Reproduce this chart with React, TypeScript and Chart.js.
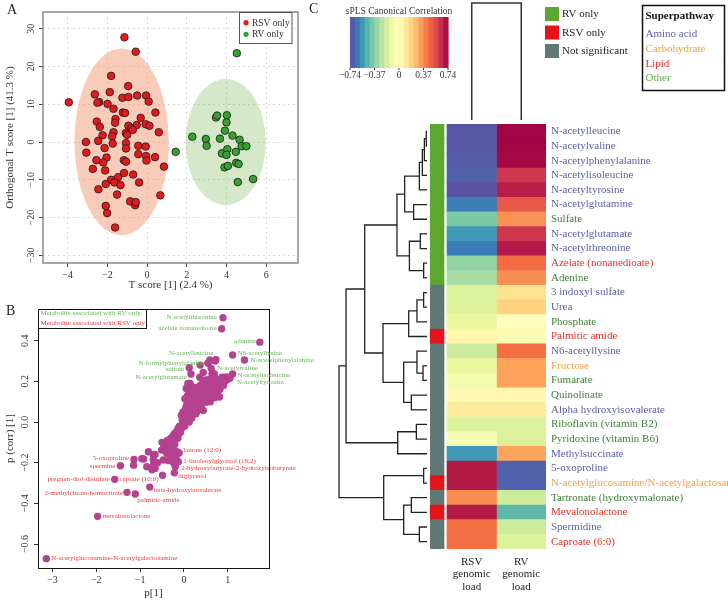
import React, { useEffect, useRef } from "react";
import { Chart, registerables } from "chart.js";
Chart.register(...registerables);

const SERIF = "'Liberation Serif', 'DejaVu Serif', serif";
const MINUS = "\u2212";
const fmt = (v: number, d = 0) => (v < 0 ? MINUS : "") + Math.abs(v).toFixed(d);

// ---------------- Panel A data ----------------
const rsvPoints: [number, number][] = [
  [-1.14, 27.7], [-0.57, 23.9], [-3.94, 10.5], [-1.81, 17.5], [-2.63, 12.6], [-2.41, 10.6], [-2.5, 10.4],
  [-1.88, 13.2], [-1.99, 10.1], [-1.69, 8.8], [-1.24, 11.7], [-0.95, 14.8], [-0.94, 11.9], [-0.5, 12.3],
  [-0.05, 12.3], [0.08, 10.7], [-1.22, 7.8], [-1.11, 7.7], [0.42, 7.8], [-2.53, 5.4], [-2.38, 4.0],
  [-1.59, 6.1], [-1.61, 5.1], [-0.94, 4.3], [-0.79, 3.7], [-0.32, 6.4], [-0.52, 4.5], [-0.07, 4.7],
  [0.12, 4.3], [-2.24, 1.8], [-1.69, 2.6], [-1.76, 1.5], [-1.07, 2.4], [-1.0, 1.9], [0.59, 2.6],
  [-3.08, 0.0], [-2.46, 0.3], [-3.06, -2.8], [-2.14, -1.6], [-1.73, -0.4], [-1.06, -0.3], [-1.06, -1.7],
  [-0.44, -1.0], [-0.07, -1.2], [-2.04, -4.1], [-2.55, -4.8], [-2.21, -5.4], [-2.11, -7.5], [-2.73, -7.1],
  [-1.17, -4.8], [-1.06, -5.2], [-0.44, -3.2], [-0.05, -3.7], [-0.03, -4.9], [0.4, -4.0], [0.85, -6.5],
  [-1.16, -8.2], [-0.7, -8.6], [-1.81, -10.0], [-1.46, -9.3], [-1.64, -10.7], [-2.08, -11.1], [-1.34, -11.4],
  [-0.4, -10.7], [-2.45, -12.5], [-1.51, -13.9], [0.67, -14.1], [-0.85, -15.7], [-0.6, -16.7], [-0.57, -15.9],
  [-2.08, -16.9], [-2.01, -18.8], [-1.61, -22.6], [-0.72, 3.2],
];
const rvPoints: [number, number][] = [
  [4.52, 23.5], [1.44, -2.6], [2.28, 1.4], [2.96, 0.8], [3.0, -1.0], [3.47, 6.5], [3.53, 7.0], [4.02, 7.1],
  [4.0, 5.2], [3.92, 3.0], [3.67, 0.9], [4.3, 1.7], [4.66, 0.6], [4.76, -1.1], [5.0, -1.1], [3.77, -3.0],
  [4.04, -1.9], [4.0, -3.4], [4.47, -2.6], [3.9, -6.7], [4.07, -6.3], [4.49, -5.5], [4.61, -5.8],
  [4.57, -10.6], [5.34, -9.8],
];
const aGroupNames = ["RSV only", "RV only"];
const aXTicks = [-4, -2, 0, 2, 4, 6];
const aYTicks = [-30, -20, -10, 0, 10, 20, 30];
// confidence ellipses: centre and semi-axes in data units
const ellCx = [-1.28, 3.96];
const ellCy = [0.04, 0.0];
const ellRx = [2.37, 2.02];
const ellRy = [24.7, 16.7];

// ---------------- Panel B data ----------------
const bPoints: [number, number][] = [
  [0.59, 0.305], [0.55, 0.29], [0.73, 0.306], [0.37, 0.28], [0.62, 0.264], [0.44, 0.244], [0.69, 0.238],
  [0.5, 0.207], [0.36, 0.22], [0.98, 0.215], [0.93, 0.21], [0.86, 0.2], [0.8, 0.19], [0.1, 0.182],
  [0.14, 0.19], [0.05, 0.165], [0.17, 0.145], [0.29, 0.17], [0.36, 0.155], [0.44, 0.163], [0.51, 0.148],
  [0.58, 0.17], [0.66, 0.148], [0.81, 0.123], [0.62, 0.123], [0.44, 0.115], [0.29, 0.107], [0.21, 0.09],
  [0.06, 0.08], [0.02, 0.115], [0.36, 0.08], [0.51, 0.098], [-0.02, 0.05], [0.17, 0.057], [0.29, 0.05],
  [-0.06, 0.033], [0.44, 0.057], [0.06, 0.04],
  [0.0, 0.02], [0.03, 0.05], [0.05, 0.01], [0.07, 0.06], [0.08, 0.03], [0.1, 0.08], [0.12, 0.05],
  [0.13, 0.1], [0.15, 0.07], [0.16, 0.12], [0.18, 0.09], [0.2, 0.11], [0.21, 0.06], [0.23, 0.13],
  [0.24, 0.09], [0.26, 0.12], [0.27, 0.15], [0.3, 0.14], [0.32, 0.17], [0.33, 0.12], [0.35, 0.15],
  [0.38, 0.13], [0.39, 0.17], [0.41, 0.14], [0.42, 0.19], [0.45, 0.16], [0.47, 0.18], [0.48, 0.14],
  [0.5, 0.2], [0.53, 0.13], [0.55, 0.18], [0.56, 0.15], [0.58, 0.21], [0.6, 0.17], [0.61, 0.14],
  [0.63, 0.19], [0.65, 0.16], [0.66, 0.21], [0.68, 0.18], [0.7, 0.15], [0.72, 0.2], [0.74, 0.17],
  [0.76, 0.19], [0.78, 0.21], [0.83, 0.2], [0.88, 0.19], [0.91, 0.21], [0.94, 0.2], [0.97, 0.22],
  [1.0, 0.21], [1.03, 0.22], [0.4, 0.07], [0.52, 0.1], [0.6, 0.1], [0.7, 0.12], [0.27, 0.04],
  [0.33, 0.06], [0.18, 0.02], [0.12, 0.0], [-0.03, -0.01], [0.02, -0.02],
  [0.08, 0.13], [0.09, 0.16], [0.1, 0.18], [0.11, 0.14], [0.12, 0.19], [0.13, 0.16], [0.09, 0.19], [0.14, 0.13],
  [0.04, 0.07], [0.09, 0.05], [0.14, 0.04], [0.19, 0.07], [0.22, 0.12], [0.25, 0.15], [0.28, 0.09],
  [0.31, 0.11], [0.34, 0.09], [0.37, 0.18], [0.4, 0.16], [0.43, 0.1], [0.46, 0.13], [0.49, 0.17],
  [0.52, 0.19], [0.54, 0.11], [0.57, 0.13], [0.59, 0.19], [0.62, 0.17], [0.64, 0.13], [0.67, 0.19],
  [0.69, 0.22], [0.71, 0.17], [0.75, 0.21], [0.77, 0.15], [0.79, 0.17], [0.82, 0.16], [0.85, 0.19],
  [0.87, 0.22], [0.9, 0.18], [0.95, 0.22], [0.73, 0.13], [0.64, 0.21], [0.46, 0.2], [0.41, 0.12],
  [0.31, 0.08], [0.24, 0.17], [0.2, 0.15], [0.16, 0.04], [0.07, 0.1], [-0.01, 0.0], [-0.04, 0.01],
  [-0.05, -0.03], [-0.08, -0.05], [-0.1, -0.02], [-0.12, -0.06], [-0.15, -0.04], [-0.17, -0.08],
  [-0.2, -0.06], [-0.22, -0.09], [-0.25, -0.07], [-0.28, -0.1], [-0.3, -0.08], [-0.32, -0.12],
  [-0.35, -0.1], [-0.38, -0.09], [-0.4, -0.12], [-0.45, -0.11], [-0.5, -0.1], [-0.47, -0.13],
  [-0.35, -0.13], [-0.28, -0.14], [-0.39, -0.155], [-0.16, -0.146], [-0.28, -0.18], [-0.24, -0.2],
  [-0.35, -0.19], [-0.47, -0.187], [-0.51, -0.138], [-0.66, -0.16], [-0.7, -0.187], [-0.81, -0.146],
  [-0.92, -0.182], [-1.15, -0.212], [-0.7, -0.212], [-0.66, -0.228], [-0.73, -0.235], [-0.85, -0.22],
  [-0.96, -0.18], [-0.7, -0.162], [-0.6, -0.2],
  [-0.07, -0.02], [-0.09, -0.04], [-0.13, -0.03], [-0.14, -0.08], [-0.18, -0.05], [-0.21, -0.11],
  [-0.23, -0.06], [-0.26, -0.12], [-0.31, -0.1], [-0.33, -0.14], [-0.37, -0.11], [-0.42, -0.1],
  [-0.43, -0.14], [-0.31, -0.16], [-0.22, -0.16], [-0.18, -0.17],
];
const bLabelNames = [
  "N-acetylthreonine", "azelate nonanedioate", "adenine", "N6-acetyllysine", "N-acetylphenylalanine",
  "N-acetylleucine", "N-formylphenylalanine", "sulfate", "N-acetylglutamate", "N-acetylvaline",
  "N-acetylisoleucine", "N-acetyltyrosine",
  "laurate (12:0)", "1-linoleoylglycerol (18:2)", "2-hydroxybutyrate-2-hydroxyisobutyrate", "diglycerol",
  "5-oxoproline", "spermine", "pregnen-diol-disulfate", "caprate (10:0)", "beta-hydroxyisovalerate",
  "2-methylcitrate-homocitrate", "palmitic-amide", "mevalonolactone", "N-acetylglucosamine-N-acetylgalactosamine",
];
const bLabelX = [0.89, 0.86, 1.73, 1.11, 1.38, 0.71, 0.55, 0.12, 0.16, 0.64, 1.11, 1.05,
  -0.11, -0.13, -0.2, -0.22, -1.14, -1.45, -1.58, -0.49, -0.78, -1.3, -1.11, -1.97, -3.14];
const bLabelY = [0.513, 0.459, 0.393, 0.33, 0.305, 0.3, 0.29, 0.267, 0.236, 0.236, 0.236, 0.215,
  -0.152, -0.195, -0.22, -0.25, -0.184, -0.215, -0.282, -0.262, -0.32, -0.346, -0.354, -0.464, -0.672];
const bLabelGroup = ["RV", "RV", "RV", "RV", "RV", "RV", "RV", "RV", "RV", "RV", "RV", "RV",
  "RSV", "RSV", "RSV", "RSV", "RSV", "RSV", "RSV", "RSV", "RSV", "RSV", "RSV", "RSV", "RSV"];
const bXTicks = [-3, -2, -1, 0, 1];
const bYTicks = [-0.6, -0.4, -0.2, 0.0, 0.2, 0.4];
const bLegendTexts = ["Metabolite associated with RV only", "Metabolite associated with RSV only"];
// label placement (pixel offsets from the point, alignment) - layout only
const bLabelLayout: [number, number, CanvasTextAlign][] = [
  [-6, -1, "right"], [-5, -1, "right"], [-4, -1, "right"], [5, -2, "left"], [6, 0, "left"],
  [-24, -8, "center"], [-4, 0, "right"], [-5, 1, "right"], [-4, 3, "right"], [5, -6, "left"],
  [5, 1, "left"], [7, 4, "left"],
  [4, -3, "left"], [5, -1, "left"], [6, 1, "left"], [4, 3, "left"], [-5, -1, "right"], [-5, 0, "right"],
  [-5, 0, "right"], [-4, 4, "right"], [4, 3, "left"], [-4, 1, "right"], [2, 6, "left"], [5, 0, "left"],
  [5, 0, "left"],
];

// ---------------- Panel C data ----------------
const metabolites = [
  "N-acetylleucine", "N-acetylvaline", "N-acetylphenylalanine", "N-acetylisoleucine", "N-acetyltyrosine",
  "N-acetylglutamine", "Sulfate", "N-acetylglutamate", "N-acetylthreonine", "Azelate (nonanedioate)",
  "Adenine", "3 indoxyl sulfate", "Urea", "Phosphate", "Palmitic amide", "N6-acetyllysine", "Fructose",
  "Fumarate", "Quinolinate", "Alpha hydroxyisovalerate", "Riboflavin (vitamin B2)", "Pyridoxine (vitamin B6)",
  "Methylsuccinate", "5-oxoproline", "N-acetylglucosamine/N-acetylgalactosamine", "Tartronate (hydroxymalonate)",
  "Mevalonolactone", "Spermidine", "Caproate (6:0)",
];
const superpathway = [
  "Amino acid", "Amino acid", "Amino acid", "Amino acid", "Amino acid", "Amino acid", "Other", "Amino acid",
  "Amino acid", "Lipid", "Other", "Amino acid", "Amino acid", "Other", "Lipid", "Amino acid", "Carbohydrate",
  "Other", "Other", "Amino acid", "Other", "Other", "Amino acid", "Amino acid", "Carbohydrate", "Other",
  "Lipid", "Amino acid", "Lipid",
];
const significance = [
  "RV only", "RV only", "RV only", "RV only", "RV only", "RV only", "RV only", "RV only", "RV only", "RV only",
  "RV only", "Not significant", "Not significant", "Not significant", "RSV only", "Not significant",
  "Not significant", "Not significant", "Not significant", "Not significant", "Not significant",
  "Not significant", "Not significant", "Not significant", "RSV only", "Not significant", "RSV only",
  "Not significant", "Not significant",
];
const rsvCorr = [-0.72, -0.72, -0.71, -0.69, -0.73, -0.62, -0.4, -0.55, -0.62, -0.35, -0.3, -0.17, -0.17,
  -0.12, 0.05, -0.21, -0.13, -0.07, 0.04, 0.1, -0.17, -0.06, -0.55, 0.68, 0.68, 0.37, 0.68, 0.44, 0.44];
const rvCorr = [0.73, 0.73, 0.72, 0.61, 0.67, 0.51, 0.36, 0.61, 0.68, 0.45, 0.37, 0.13, 0.19, 0.01, -0.05,
  0.44, 0.32, 0.32, 0.04, 0.1, -0.17, -0.17, 0.32, -0.69, -0.69, -0.21, -0.47, -0.21, -0.17];
const columnLabels = [["RSV", "genomic", "load"], ["RV", "genomic", "load"]];
const sigLegend = ["RV only", "RSV only", "Not significant"];
const superLegend = ["Amino acid", "Carbohydrate", "Lipid", "Other"];
const cbTicks = [-0.74, -0.37, 0, 0.37, 0.74];
// hierarchical clustering of rows (hclust-style merges: negative = leaf, positive = earlier merge; height)
const rowMerges: [number, number, number][] = [
  [-1, -2, 0.008], [1, -3, 0.03], [2, -4, 0.053], [3, -5, 0.087], [-6, -7, 0.152], [4, 5, 0.254],
  [-8, -9, 0.076], [-10, -11, 0.038], [7, 8, 0.2], [6, 9, 0.341], [-12, -13, 0.038], [11, -14, 0.114],
  [12, -15, 0.208], [-17, -18, 0.045], [-16, 14, 0.114], [-19, -20, 0.178], [15, 16, 0.265], [13, 17, 0.5],
  [10, 18, 0.708], [-21, -22, 0.121], [20, -23, 0.333], [19, 21, 0.92], [-24, -25, 0.038], [-26, -27, 0.178],
  [-28, -29, 0.087], [24, 25, 0.265], [23, 26, 0.492], [22, 27, 1.0],
];

// ---------------- styles ----------------
const spectral = ["#5e4fa2", "#3288bd", "#66c2a5", "#abdda4", "#e6f598", "#ffffbf", "#fee08b", "#fdae61",
  "#f46d43", "#d53e4f", "#9e0142"];
const sigColors: Record<string, string> = { "RV only": "#5ea72f", "RSV only": "#e3151a", "Not significant": "#5f7775" };
const superLabelColors: Record<string, string> = { "Amino acid": "#5a5ea8", Carbohydrate: "#f2a043", Lipid: "#e8302a", Other: "#3f7d3b" };
const superLegendColors: Record<string, string> = { "Amino acid": "#5b5fb0", Carbohydrate: "#f5a040", Lipid: "#ec2a2a", Other: "#63ad4a" };
const RSV_RED = "#e31a1c";
const RV_GREEN = "#36a031";
const B_MAGENTA = "#b5428f";
const B_GREEN = "#63b553";
const B_RED = "#ee3b3b";

const hexRgb = (h: string) => [1, 3, 5].map((i) => parseInt(h.slice(i, i + 2), 16));
function corrColor(v: number) {
  const t = Math.max(0, Math.min(1, (v - cbTicks[0]) / (cbTicks[cbTicks.length - 1] - cbTicks[0]))) * (spectral.length - 1);
  const i = Math.min(spectral.length - 2, Math.floor(t));
  const f = t - i;
  const a = hexRgb(spectral[i]);
  const b = hexRgb(spectral[i + 1]);
  const c = a.map((x, k) => Math.round(x + (b[k] - x) * f));
  return `rgb(${c[0]},${c[1]},${c[2]})`;
}

Chart.defaults.font.family = SERIF;

// ---------------- chart configs ----------------
function makeA(): any {
  const plugin = {
    id: "panelA",
    beforeDatasetsDraw(chart: any) {
      const { ctx, scales } = chart;
      const fills = ["rgba(242,140,100,0.45)", "rgba(120,180,80,0.3)"];
      ctx.save();
      for (let i = 0; i < ellCx.length; i++) {
        const cx = scales.x.getPixelForValue(ellCx[i]);
        const cy = scales.y.getPixelForValue(ellCy[i]);
        const rx = Math.abs(scales.x.getPixelForValue(ellCx[i] + ellRx[i]) - cx);
        const ry = Math.abs(scales.y.getPixelForValue(ellCy[i] + ellRy[i]) - cy);
        ctx.beginPath();
        ctx.ellipse(cx, cy, rx, ry, 0, 0, Math.PI * 2);
        ctx.fillStyle = fills[i];
        ctx.fill();
      }
      ctx.restore();
    },
    afterDraw(chart: any) {
      const { ctx, chartArea: ca, scales } = chart;
      ctx.save();
      ctx.strokeStyle = "#8a8a8a";
      ctx.lineWidth = 1.5;
      ctx.strokeRect(ca.left, ca.top, ca.right - ca.left, ca.bottom - ca.top);
      ctx.fillStyle = "#333";
      ctx.font = `10px ${SERIF}`;
      ctx.textAlign = "center";
      ctx.textBaseline = "middle";
      for (const v of aYTicks) {
        const y = scales.y.getPixelForValue(v);
        ctx.save();
        ctx.translate(31, y);
        ctx.rotate(-Math.PI / 2);
        ctx.fillText(fmt(v), 0, 0);
        ctx.restore();
      }
      // legend
      ctx.fillStyle = "#fff";
      ctx.fillRect(239, 12, 53, 31);
      ctx.strokeStyle = "#555";
      ctx.lineWidth = 1;
      ctx.strokeRect(239.5, 12.5, 52.5, 31);
      const cols = [RSV_RED, RV_GREEN];
      aGroupNames.forEach((name, i) => {
        const y = 22.7 + i * 11.6;
        ctx.beginPath();
        ctx.arc(246, y, 2.6, 0, Math.PI * 2);
        ctx.fillStyle = cols[i];
        ctx.fill();
        ctx.fillStyle = "#333";
        ctx.font = `9.5px ${SERIF}`;
        ctx.textAlign = "left";
        ctx.fillText(name, 252, y + 0.5);
      });
      ctx.font = `14px ${SERIF}`;
      ctx.fillStyle = "#222";
      ctx.textAlign = "left";
      ctx.fillText("A", 7, 10);
      ctx.restore();
    },
  };
  return {
    type: "scatter",
    data: {
      datasets: [
        { label: aGroupNames[0], data: rsvPoints.map(([x, y]) => ({ x, y })), backgroundColor: RSV_RED },
        { label: aGroupNames[1], data: rvPoints.map(([x, y]) => ({ x, y })), backgroundColor: RV_GREEN },
      ],
    },
    options: {
      animation: false,
      responsive: false,
      devicePixelRatio: 1,
      layout: { padding: { top: 12, right: 7, left: 0, bottom: 0 } },
      elements: { point: { radius: 3.8, borderWidth: 0.8, borderColor: "#1a1a1a" } },
      plugins: { legend: { display: false }, tooltip: { enabled: false } },
      scales: {
        x: {
          type: "linear", min: -5.24, max: 7.6,
          afterBuildTicks: (s: any) => { s.ticks = aXTicks.map((v) => ({ value: v })); },
          afterFit: (s: any) => { s.height = 32; },
          grid: { color: "#dcdcdc", drawTicks: true, tickLength: 4, tickColor: "#444", tickBorderDash: [] },
          border: { display: false, dash: [2, 3] },
          ticks: { font: { size: 10 }, color: "#333", padding: 2, maxRotation: 0, callback: (v: number) => fmt(v) },
          title: { display: true, text: "T score [1] (2.4 %)", font: { size: 11 }, color: "#333", padding: { top: 0, bottom: 3 } },
        },
        y: {
          type: "linear", min: -32, max: 34.4,
          afterBuildTicks: (s: any) => { s.ticks = aYTicks.map((v) => ({ value: v })); },
          afterFit: (s: any) => { s.width = 43; },
          grid: { color: "#dcdcdc", drawTicks: true, tickLength: 4, tickColor: "#444", tickBorderDash: [] },
          border: { display: false, dash: [2, 3] },
          ticks: { display: false },
          title: { display: true, text: "Orthogonal T score [1] (41.3 %)", font: { size: 11 }, color: "#333", padding: { top: 4, bottom: 0 } },
        },
      },
    },
    plugins: [plugin],
  };
}

function makeB(): any {
  const plugin = {
    id: "panelB",
    afterDraw(chart: any) {
      const { ctx, chartArea: ca, scales } = chart;
      ctx.save();
      ctx.strokeStyle = "#111";
      ctx.lineWidth = 1;
      ctx.strokeRect(ca.left + 0.5, ca.top + 0.5, ca.right - ca.left, ca.bottom - ca.top);
      ctx.fillStyle = "#333";
      ctx.font = `10px ${SERIF}`;
      ctx.textAlign = "center";
      ctx.textBaseline = "middle";
      for (const v of bYTicks) {
        const y = scales.y.getPixelForValue(v);
        ctx.save();
        ctx.translate(25, y);
        ctx.rotate(-Math.PI / 2);
        ctx.fillText(fmt(v, 1), 0, 0);
        ctx.restore();
      }
      // legend box
      ctx.strokeRect(38.5, 14.5, 108, 19);
      ctx.font = `7px ${SERIF}`;
      ctx.textAlign = "left";
      ctx.fillStyle = B_GREEN;
      ctx.fillText(bLegendTexts[0], 40.5, 18.5);
      ctx.fillStyle = B_RED;
      ctx.fillText(bLegendTexts[1], 40.5, 28);
      // point labels
      bLabelNames.forEach((name, i) => {
        const px = scales.x.getPixelForValue(bLabelX[i]);
        const py = scales.y.getPixelForValue(bLabelY[i]);
        const [dx, dy, align] = bLabelLayout[i];
        ctx.fillStyle = bLabelGroup[i] === "RV" ? B_GREEN : B_RED;
        ctx.textAlign = align;
        ctx.fillText(name, px + dx, py + dy);
      });
      ctx.font = `14px ${SERIF}`;
      ctx.fillStyle = "#222";
      ctx.textAlign = "left";
      ctx.fillText("B", 6, 16);
      ctx.restore();
    },
  };
  return {
    type: "scatter",
    data: {
      datasets: [
        { label: "metabolites", data: bPoints.map(([x, y]) => ({ x, y })), backgroundColor: B_MAGENTA },
        { label: "labelled", data: bLabelX.map((x, i) => ({ x, y: bLabelY[i] })), backgroundColor: B_MAGENTA },
      ],
    },
    options: {
      animation: false,
      responsive: false,
      devicePixelRatio: 1,
      layout: { padding: { top: 14, right: 71, left: 0, bottom: 0 } },
      elements: { point: { radius: 3.7, borderWidth: 0 } },
      plugins: { legend: { display: false }, tooltip: { enabled: false } },
      scales: {
        x: {
          type: "linear", min: -3.33, max: 1.94,
          afterBuildTicks: (s: any) => { s.ticks = bXTicks.map((v) => ({ value: v })); },
          afterFit: (s: any) => { s.height = 32; },
          grid: { drawOnChartArea: false, drawTicks: true, tickLength: 4, tickColor: "#333" },
          border: { display: false },
          ticks: { font: { size: 10 }, color: "#333", padding: 2, maxRotation: 0, callback: (v: number) => fmt(v) },
          title: { display: true, text: "p[1]", font: { size: 11 }, color: "#333", padding: { top: 0, bottom: 0 } },
        },
        y: {
          type: "linear", min: -0.718, max: 0.556,
          afterBuildTicks: (s: any) => { s.ticks = bYTicks.map((v) => ({ value: v })); },
          afterFit: (s: any) => { s.width = 38; },
          grid: { drawOnChartArea: false, drawTicks: true, tickLength: 4, tickColor: "#333" },
          border: { display: false },
          ticks: { display: false },
          title: { display: true, text: "p (corr) [1]", font: { size: 11 }, color: "#333", padding: { top: 4, bottom: 0 } },
        },
      },
    },
    plugins: [plugin],
  };
}

function makeC(): any {
  const plugin = {
    id: "panelC",
    afterDraw(chart: any) {
      const { ctx, scales } = chart;
      ctx.save();
      // panel letter
      ctx.font = `14px ${SERIF}`;
      ctx.fillStyle = "#222";
      ctx.textBaseline = "middle";
      ctx.fillText("C", 9, 9);
      // colour bar
      const cbL = 50, cbR = 148, cbT = 17, cbB = 68, n = 20;
      const lo = cbTicks[0], hi = cbTicks[cbTicks.length - 1];
      const w = (cbR - cbL) / n;
      for (let k = 0; k < n; k++) {
        ctx.fillStyle = corrColor(lo + ((k + 0.5) / n) * (hi - lo));
        ctx.fillRect(cbL + k * w, cbT, w + 0.6, cbB - cbT);
      }
      ctx.fillStyle = "#333";
      ctx.strokeStyle = "#333";
      ctx.lineWidth = 1;
      ctx.font = `9.5px ${SERIF}`;
      ctx.textAlign = "center";
      ctx.fillText("sPLS Canonical Correlation", (cbL + cbR) / 2, 11);
      for (const v of cbTicks) {
        const x = cbL + ((v - lo) / (hi - lo)) * (cbR - cbL);
        ctx.beginPath();
        ctx.moveTo(x, cbB);
        ctx.lineTo(x, cbB + 2);
        ctx.stroke();
        ctx.fillText(fmt(v, v === 0 ? 0 : 2), x, 75);
      }
      // column dendrogram
      const x1 = scales.x.getPixelForValue(0.5);
      const x2 = scales.x.getPixelForValue(1.5);
      ctx.strokeStyle = "#333";
      ctx.lineWidth = 1.5;
      ctx.beginPath();
      ctx.moveTo(x1, 120);
      ctx.lineTo(x1, 3);
      ctx.lineTo(x2, 3);
      ctx.lineTo(x2, 120);
      ctx.stroke();
      // row dendrogram
      const ys = scales.y;
      const leafX = 127, rootX = 39;
      const hx = (h: number) => leafX - h * (leafX - rootX);
      const nx: number[] = [];
      const ny: number[] = [];
      const pos = (id: number) => (id < 0 ? { x: leafX, y: ys.getPixelForValue(-id - 1) } : { x: nx[id - 1], y: ny[id - 1] });
      ctx.strokeStyle = "#222";
      ctx.lineWidth = 1.3;
      ctx.beginPath();
      rowMerges.forEach(([a, b, h], k) => {
        const pa = pos(a), pb = pos(b), x = hx(h);
        ctx.moveTo(pa.x, pa.y);
        ctx.lineTo(x, pa.y);
        ctx.lineTo(x, pb.y);
        ctx.lineTo(pb.x, pb.y);
        nx[k] = x;
        ny[k] = (pa.y + pb.y) / 2;
      });
      ctx.stroke();
      // significance legend
      ctx.font = `11px ${SERIF}`;
      ctx.textAlign = "left";
      sigLegend.forEach((name, i) => {
        const y = 7 + i * 18.5;
        ctx.fillStyle = sigColors[name];
        ctx.fillRect(245, y, 14, 14);
        ctx.fillStyle = "#222";
        ctx.fillText(name, 262, y + 7.5);
      });
      // superpathway legend
      ctx.strokeStyle = "#111";
      ctx.lineWidth = 1.5;
      ctx.strokeRect(342.5, 5.5, 82, 85);
      ctx.fillStyle = "#111";
      ctx.font = `bold 11px ${SERIF}`;
      ctx.fillText("Superpathway", 345.5, 16.5);
      ctx.font = `11px ${SERIF}`;
      superLegend.forEach((name, i) => {
        ctx.fillStyle = superLegendColors[name];
        ctx.fillText(name, 345.5, 34.5 + i * 14.6);
      });
      ctx.restore();
    },
  };
  const sideStart = -0.343, sideEnd = -0.06;
  return {
    type: "bar",
    data: {
      labels: metabolites,
      datasets: [
        { label: "Significance", data: metabolites.map(() => [sideStart, sideEnd]), backgroundColor: significance.map((g) => sigColors[g]) },
        { label: "RSV genomic load", data: rsvCorr.map(() => [0, 1]), backgroundColor: rsvCorr.map(corrColor) },
        { label: "RV genomic load", data: rvCorr.map(() => [1, 2]), backgroundColor: rvCorr.map(corrColor) },
      ],
    },
    options: {
      indexAxis: "y",
      animation: false,
      responsive: false,
      devicePixelRatio: 1,
      layout: { padding: { top: 124, left: 130, right: 0, bottom: 0 } },
      datasets: { bar: { grouped: false, barPercentage: 1, categoryPercentage: 1, borderWidth: 0 } },
      plugins: { legend: { display: false }, tooltip: { enabled: false } },
      scales: {
        x: {
          type: "linear", min: sideStart, max: 2, position: "bottom",
          afterBuildTicks: (s: any) => { s.ticks = [0.5, 1.5].map((v) => ({ value: v })); },
          afterFit: (s: any) => { s.height = 51; },
          grid: { display: false, drawTicks: false },
          border: { display: false },
          ticks: { font: { size: 11, lineHeight: 1.12 }, color: "#222", padding: 7, maxRotation: 0, callback: (_v: number, i: number) => columnLabels[i] },
        },
        y: {
          type: "category", position: "right",
          afterFit: (s: any) => { s.width = 182; },
          grid: { display: false, drawTicks: false },
          border: { display: false },
          ticks: { autoSkip: false, font: { size: 11 }, padding: 5, color: (c: any) => superLabelColors[superpathway[c.index]] },
        },
      },
    },
    plugins: [plugin],
  };
}

function ChartCanvas({ left, top, width, height, make }: { left: number; top: number; width: number; height: number; make: () => any }) {
  const ref = useRef<HTMLCanvasElement>(null);
  useEffect(() => {
    const chart = new Chart(ref.current as HTMLCanvasElement, make());
    return () => chart.destroy();
  }, []);
  return <canvas ref={ref} width={width} height={height} style={{ position: "absolute", left, top, width, height }} />;
}

export default function App() {
  return (
    <div style={{ position: "absolute", left: 0, top: 0, width: 728, height: 600, background: "#fff", overflow: "hidden" }}>
      <ChartCanvas left={0} top={0} width={305} height={295} make={makeA} />
      <ChartCanvas left={0} top={295} width={340} height={305} make={makeB} />
      <ChartCanvas left={300} top={0} width={428} height={600} make={makeC} />
    </div>
  );
}
